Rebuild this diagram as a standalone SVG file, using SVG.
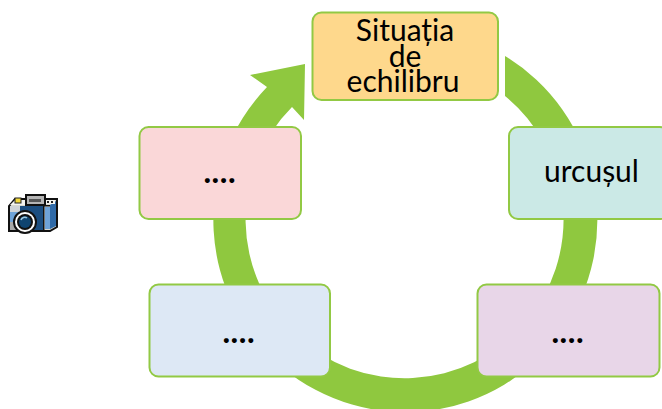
<svg xmlns="http://www.w3.org/2000/svg" width="662" height="409" viewBox="0 0 662 409">
<style>
.n{stroke:#92c944;stroke-width:2}
.t{font-family:Lato,"Open Sans",sans-serif;font-size:30px;text-anchor:middle;fill:#000}
.d{font-family:Lato,"Open Sans",sans-serif;font-size:30px;font-weight:900;text-anchor:middle;fill:#000;letter-spacing:1px}
</style>
<rect width="662" height="409" fill="#fff"/>
<g id="camera">
<path fill="#d8d8d0" stroke="#111" stroke-width="2" d="M15 199H57V227L50 231H9V206Z"/>
<path fill="#f4f4f0" d="M15 200H25V205H10Z"/>
<rect x="10" y="206" width="33" height="6" fill="#cfd3d8"/>
<rect x="10" y="212" width="33" height="10" fill="#6fa3d8"/>
<rect x="10" y="222" width="33" height="8" fill="#a9a9a9"/>
<path fill="#1c4e80" d="M20 206H43V230H20Z"/>
<rect x="43" y="206" width="1.500" height="24" fill="#111"/>
<path fill="#6fa3d8" d="M45 207H50V229H45Z"/>
<path fill="#2f6aa8" d="M50 205L56 201V226L50 229Z"/>
<path fill="#111" d="M44 205H50V206.500H44Z"/>
<rect x="46" y="200" width="9" height="4" fill="#f4f4f0"/>
<rect x="47" y="201" width="2" height="2" fill="#222"/><rect x="51" y="201" width="2" height="2" fill="#222"/>
<rect x="26" y="195" width="19" height="10" fill="#b5b5b5" stroke="#111" stroke-width="2"/>
<rect x="29" y="199" width="12" height="3" fill="#555"/>
<rect x="15" y="198" width="6" height="5" fill="#f2d83a" stroke="#222" stroke-width="1"/>
<circle cx="25" cy="222" r="11" fill="#fff" stroke="#111" stroke-width="2"/>
<circle cx="25" cy="222" r="8" fill="#111"/>
<circle cx="25" cy="222" r="6" fill="#0f4470"/>
<path d="M21 220a4 4 0 0 1 6-2" fill="none" stroke="#9cc8e0" stroke-width="1.500"/>
</g>
<g id="connectors">
<path fill="#8fc83f" d="M505 56A192 192 0 1 1 267 87L250 75L305 64L304 120L292 107A159 159 0 1 0 505 96Z"/>
</g>
<g id="node-top"><rect class="n" x="312.500" y="12.500" width="185.500" height="87.500" rx="9" fill="#fed88c"/>
<text class="t" x="405" y="41">Situația</text><text class="t" x="405" y="67">de</text><text class="t" x="403" y="92">echilibru</text></g>
<g id="node-right"><rect class="n" x="509" y="127" width="160" height="92" rx="9" fill="#cbe9e6"/><text class="t" x="591.500" y="182">urcușul</text></g>
<g id="node-br"><rect class="n" x="477.500" y="284.500" width="182" height="92" rx="9" fill="#e8d6e8"/><text class="d" x="568" y="343">....</text></g>
<g id="node-bl"><rect class="n" x="149.500" y="284.500" width="180.500" height="92" rx="9" fill="#dde8f5"/><text class="d" x="239" y="343">....</text></g>
<g id="node-left"><rect class="n" x="139.500" y="127" width="161.500" height="92" rx="9" fill="#fad7d8"/><text class="d" x="220" y="183">....</text></g>
</svg>
